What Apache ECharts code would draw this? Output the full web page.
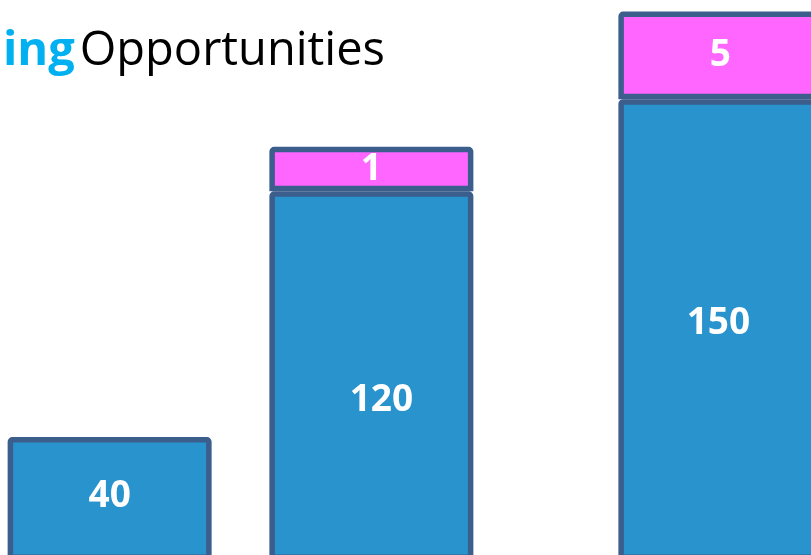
<!DOCTYPE html>
<html>
<head>
<meta charset="utf-8">
<script src="https://cdn.jsdelivr.net/npm/echarts@6/dist/echarts.min.js"></script>
<style>
  html, body { margin: 0; padding: 0; background: #ffffff; }
  #chart { width: 811px; height: 555px; }
</style>
</head>
<body>
<div id="chart"></div>
<script>
// Categories (axis labels are hidden in the reference; empty slots are spacing gaps)
const categories = ['A', 'gap1', 'gap2', 'B', 'gap3', 'gap4', 'gap5', 'C'];
// Main (blue) values
const blueValues = [40, null, null, 120, null, null, null, 150];
// Top (pink) segment labels shown in the picture
const pinkLabels = [null, null, null, 1, null, null, null, 5];
// Pink segments as drawn (not to scale with their labels) – heights in axis units
const pinkDrawn = [null, null, null, 14.5, null, null, null, 28.5];

// label nudges (style, not data)
const blueLabelOffsets = [[0, -2], null, null, [10, 25], null, null, null, [-2, -6]];

const BLUE = '#2893CC', PINK = '#FF66FF', EDGE = '#3B5E8C';
const FONT = '"Open Sans", "Noto Sans", sans-serif';

const chart = echarts.init(document.getElementById('chart'), null, { renderer: 'canvas' });
chart.setOption({
  animation: false,
  backgroundColor: '#ffffff',
  title: {
    text: '{a|ing} {b|Opportunities}',
    left: -2,
    top: 17,
    textStyle: {
      rich: {
        a: { fontFamily: FONT, fontSize: 47, fontWeight: 'bold', color: '#00B0F0', lineHeight: 60 },
        b: { fontFamily: FONT, fontSize: 47, fontWeight: 'normal', color: '#000000', lineHeight: 60 }
      }
    }
  },
  grid: { left: 66, width: 698, top: 7, height: 553, outerBoundsMode: 'none', containLabel: false },
  xAxis: {
    type: 'category',
    data: categories,
    show: false
  },
  yAxis: {
    type: 'value',
    min: 0,
    max: 180,
    show: false
  },
  series: [
    {
      type: 'bar',
      stack: 'total',
      clip: false,
      barWidth: 204,
      data: blueValues.map((v, i) => v == null ? null : ({
        value: v,
        label: { offset: blueLabelOffsets[i] || [0, 0] }
      })),
      itemStyle: { color: BLUE, borderColor: EDGE, borderWidth: 5.5, borderRadius: [2, 2, 0, 0] },
      label: {
        show: true,
        position: 'inside',
        color: '#ffffff',
        fontFamily: FONT,
        fontWeight: 'bold',
        fontSize: 37
      },
      z: 2
    },
    {
      type: 'bar',
      stack: 'total',
      clip: false,
      barWidth: 204,
      data: pinkDrawn,
      itemStyle: { color: PINK, borderColor: EDGE, borderWidth: 5.5, borderRadius: [2, 2, 0, 0] },
      label: {
        show: true,
        position: 'inside',
        color: '#ffffff',
        fontFamily: FONT,
        fontWeight: 'bold',
        fontSize: 37,
        formatter: p => pinkLabels[p.dataIndex] == null ? '' : String(pinkLabels[p.dataIndex])
      },
      z: 3
    }
  ]
});
</script>
</body>
</html>
